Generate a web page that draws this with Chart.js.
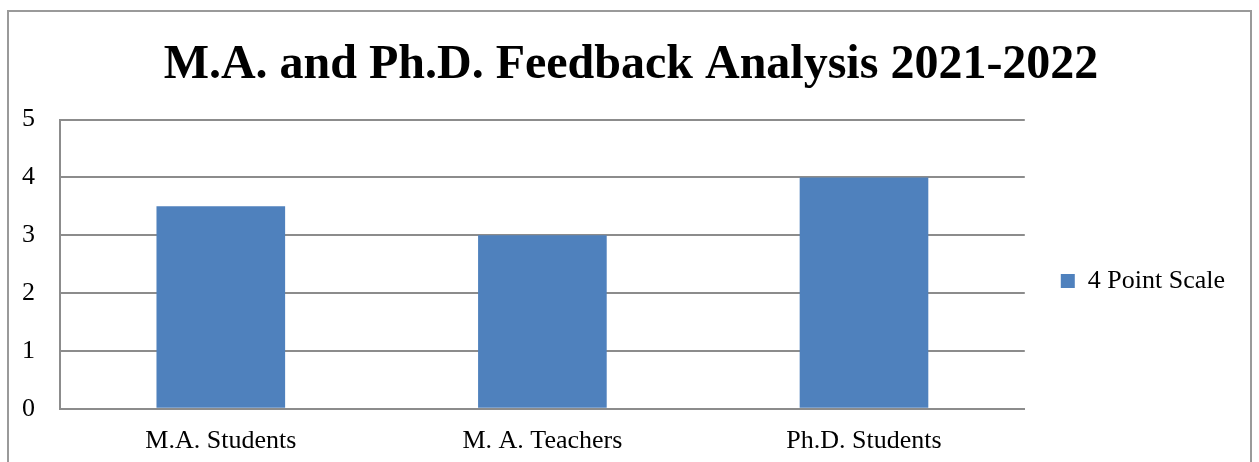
<!DOCTYPE html>
<html>
<head>
<meta charset="utf-8">
<script src="https://cdn.jsdelivr.net/npm/chart.js@4"></script>
<style>
  html, body { margin: 0; padding: 0; background: #fff; }
  #wrap { position: relative; width: 1259px; height: 462px; overflow: hidden; }
  #frame { position: absolute; left: 7px; top: 10px; width: 1245px; height: 470px;
           border: 2px solid #9a9a9a; box-sizing: border-box; pointer-events: none; }
  canvas { position: absolute; left: 0; top: 0; }
</style>
</head>
<body>
<div id="wrap">
  <canvas id="feedback-chart" width="1259" height="462"></canvas>
  <div id="frame"></div>
</div>
<script>
const categories = ['M.A. Students', 'M. A. Teachers', 'Ph.D. Students'];
const scaleValues = [3.5, 3.0, 4.0];
const seriesName = '4 Point Scale';
const yTicks = [0, 1, 2, 3, 4, 5];

const serif = 'Liberation Serif, Times New Roman, serif';
const gridGray = '#8c8c8c';

// the title sits centred on the whole frame, not on the area left of the legend
const centreTitle = {
    id: 'centreTitle',
    afterLayout(chart) {
        const t = chart.titleBlock;
        if (t) { t.left += 15; t.right += 15; }
    }
};

document.addEventListener('DOMContentLoaded', () => {
    const el = document.getElementById('feedback-chart');
    new Chart(el, {
        type: 'bar',
        data: {
            labels: categories,
            datasets: [{
                label: seriesName,
                data: scaleValues,
                backgroundColor: '#4f81bd',
                borderWidth: 0,
                barPercentage: 0.4,
                categoryPercentage: 1.0
            }]
        },
        plugins: [centreTitle],
        options: {
            responsive: false,
            animation: false,
            layout: { padding: { top: 10, left: -3, right: 24, bottom: -12 } },
            plugins: {
                title: {
                    display: true,
                    text: 'M.A. and Ph.D. Feedback Analysis 2021-2022',
                    color: '#000',
                    font: { family: serif, size: 48, weight: 'bold', lineHeight: 1.2 },
                    padding: { top: 27, bottom: 25 }
                },
                legend: {
                    position: 'right',
                    // empty title only pushes the single item down to the plot's middle
                    title: { display: true, text: ' ', font: { size: 10, lineHeight: 1 }, padding: { top: 68, bottom: 0 } },
                    labels: {
                        color: '#000',
                        font: { family: serif, size: 26 },
                        boxWidth: 14,
                        boxHeight: 14,
                        padding: 36
                    }
                },
                tooltip: { enabled: false }
            },
            scales: {
                x: {
                    grid: { display: false, drawTicks: false },
                    border: { display: true, color: gridGray, width: 2 },
                    ticks: { color: '#000', font: { family: serif, size: 26 }, padding: 17 }
                },
                y: {
                    min: 0,
                    max: yTicks[yTicks.length - 1],
                    afterBuildTicks: (axis) => { axis.ticks = yTicks.map(v => ({ value: v })); },
                    grid: { color: gridGray, lineWidth: 2, drawTicks: false },
                    border: { display: true, color: gridGray, width: 2 },
                    ticks: { color: '#000', font: { family: serif, size: 26 }, padding: 25 }
                }
            }
        }
    });
});
</script>
</body>
</html>
